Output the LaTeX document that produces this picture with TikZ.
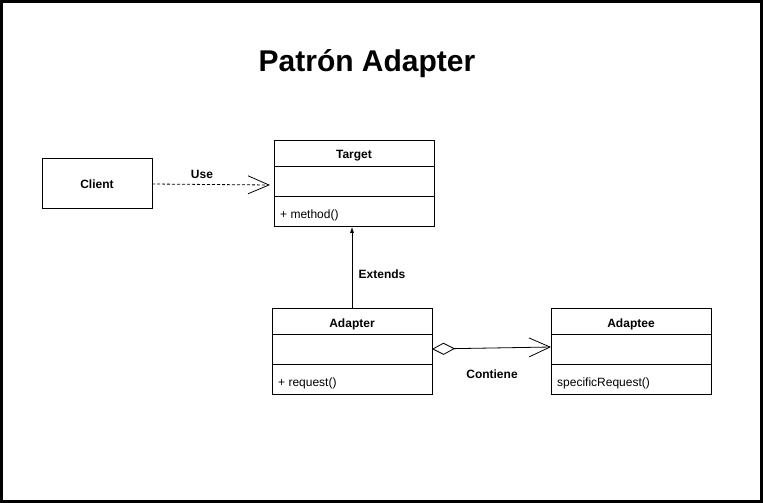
\documentclass[tikz,border=0pt]{standalone}
\usepackage{fontspec}
\setmainfont{Liberation Sans}
\usetikzlibrary{arrows.meta}
\begin{document}
\begin{tikzpicture}[x=1pt,y=-1pt,
  box/.style={draw,line width=0.8pt},
  lbl/.style={font=\bfseries\fontsize{12}{14}\selectfont,inner sep=0pt},
  txt/.style={font=\fontsize{12}{14}\selectfont,inner sep=0pt,anchor=west},
  openhead/.style={-{Straight Barb[length=21pt,width=18pt,line width=0.8pt]}},
]
\useasboundingbox (0,0) rectangle (763,503);
\draw[line width=3pt] (1.5,1.5) rectangle (761.5,501.5);
\node[font=\bfseries\fontsize{30}{34}\selectfont] (title) at (367,64) {Patrón Adapter};
% Client
\node[box,minimum width=110pt,minimum height=50pt,inner sep=0pt,anchor=north west] (client) at (42,158) {};
\node[lbl] (clientt) at (97,184) {Client};
% Target
\node[box,minimum width=160pt,minimum height=86pt,inner sep=0pt,anchor=north west] (target) at (274,140) {};
\draw[line width=0.8pt] (274,166) -- (434,166);
\draw[line width=0.8pt] (274,196) -- (434,196);
\node[lbl] (targett) at (354,156) {Target};
\node[txt] (targetm) at (280,215) {+ method()};
% Adapter
\node[box,minimum width=160pt,minimum height=86pt,inner sep=0pt,anchor=north west] (adapter) at (272,308) {};
\draw[line width=0.8pt] (272,334) -- (432,334);
\draw[line width=0.8pt] (272,364) -- (432,364);
\node[lbl] (adaptert) at (352,324) {Adapter};
\node[txt] (adapterm) at (278,383) {+ request()};
% Adaptee
\node[box,minimum width=160pt,minimum height=86pt,inner sep=0pt,anchor=north west] (adaptee) at (551,308) {};
\draw[line width=0.8pt] (551,334) -- (711,334);
\draw[line width=0.8pt] (551,364) -- (711,364);
\node[lbl] (adapteet) at (631,324) {Adaptee};
\node[txt] (adapteem) at (557,383) {specificRequest()};
% Connectors
\coordinate (useend) at (270,185);
\draw[line width=0.8pt,dash pattern=on 3pt off 2pt,openhead] (152,184) -- (useend);
\node[lbl] (use) at (202,174) {Use};
\draw[line width=0.8pt,-{Latex[length=6pt,width=4pt]}] (adapter.north -| 352,0) -- (target.south -| 352,0);
\node[lbl] (ext) at (382,274) {Extends};
\draw[line width=0.8pt,{Diamond[open,length=23pt,width=12pt,line width=0.8pt]}-{Straight Barb[length=21pt,width=19pt,line width=0.8pt]}] (432,349) -- (551,347);
\node[lbl] (cont) at (492,374) {Contiene};
\end{tikzpicture}
\end{document}
